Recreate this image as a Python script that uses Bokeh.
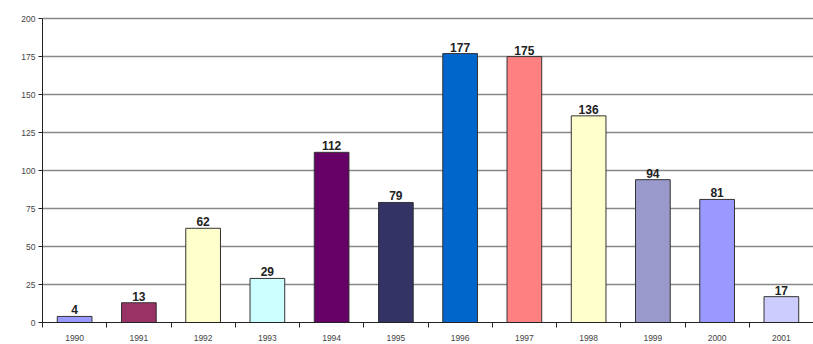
from bokeh.plotting import figure
from bokeh.models import ColumnDataSource, FixedTicker, Range1d, LabelSet
from bokeh.core.properties import value
from bokeh.embed import file_html
from bokeh.resources import INLINE

years = ["1990", "1991", "1992", "1993", "1994", "1995", "1996", "1997", "1998", "1999", "2000", "2001"]
counts = [4, 13, 62, 29, 112, 79, 177, 175, 136, 94, 81, 17]
colors = ["#9999ff", "#993366", "#ffffcc", "#ccffff", "#660066", "#333366",
          "#0066cc", "#ff8080", "#ffffcc", "#9999cc", "#9999ff", "#ccccff"]
y_ticks = [0, 25, 50, 75, 100, 125, 150, 175, 200]

n = len(years)
xs = [i + 0.5 for i in range(n)]
src = ColumnDataSource(dict(x=xs, top=counts, color=colors, label=[str(c) for c in counts]))

p = figure(width=813, height=344, output_backend="svg", toolbar_location=None, title=None,
           x_range=Range1d(0, n), y_range=Range1d(0, 206),
           min_border_left=42, min_border_right=0, min_border_top=9, min_border_bottom=22)
p.outline_line_color = None
p.background_fill_color = "white"

p.ygrid.ticker = FixedTicker(ticks=y_ticks)
p.ygrid.grid_line_color = "#888888"
p.ygrid.grid_line_width = 1.5
p.ygrid.level = "underlay"

p.vbar(x="x", top="top", width=0.54, bottom=0, fill_color="color",
       line_color="#333333", line_width=1, source=src)

labels = LabelSet(x="x", y="top", text="label", source=src, text_align="center",
                  text_baseline="bottom", y_offset=2, text_font=value("Liberation Sans"),
                  text_font_style="bold", text_font_size="12px", text_color="#222222")
p.add_layout(labels)

# x axis
p.xaxis.ticker = FixedTicker(ticks=xs, minor_ticks=list(range(n + 1)))
p.xaxis.major_label_overrides = {x: y for x, y in zip(xs, years)}
p.xaxis.major_tick_line_color = None
p.xaxis.minor_tick_line_color = "#222222"
p.xaxis.minor_tick_out = 5
p.xaxis.minor_tick_in = 0
p.xaxis.axis_line_color = "#222222"
p.xaxis.major_label_text_font = "Liberation Sans"
p.xaxis.major_label_text_font_size = "8.5px"
p.xaxis.major_label_text_color = "#444444"
p.xaxis.major_label_standoff = 6
p.xgrid.grid_line_color = None

# y axis
p.yaxis.ticker = FixedTicker(ticks=y_ticks)
p.yaxis.bounds = (0, 200)
p.yaxis.minor_tick_line_color = None
p.yaxis.major_tick_out = 4
p.yaxis.major_tick_in = 0
p.yaxis.major_tick_line_color = "#222222"
p.yaxis.axis_line_color = "#222222"
p.yaxis.major_label_text_font = "Liberation Sans"
p.yaxis.major_label_text_font_size = "8.5px"
p.yaxis.major_label_text_color = "#444444"
p.yaxis.major_label_standoff = 3

open("out.html", "w").write(file_html(p, INLINE))
